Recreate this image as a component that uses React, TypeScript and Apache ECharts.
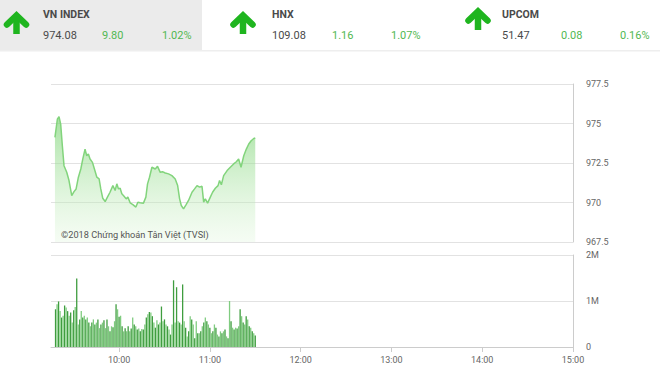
import React, { useEffect, useRef } from "react";
import * as echarts from "echarts";

// Header quotes
const indexNames = ["VN INDEX", "HNX", "UPCOM"];
const indexValues = ["974.08", "109.08", "51.47"];
const indexChanges = ["9.80", "1.16", "0.08"];
const indexPercents = ["1.02%", "1.07%", "0.16%"];

// Axis ticks
const sessionStart = 555; // 9:15 in minutes since midnight
const sessionEnd = 900; // 15:00
const timeTicks = [600, 660, 720, 780, 840, 900];
const priceMin = 967.5;
const priceMax = 977.5;
const priceStep = 2.5;
const volMax = 2;
const volStep = 1;

// Price: minutes after 9:15, index value
const priceTimes = [
  2.6, 4.2, 5.3, 6.4, 7.5, 8.6, 10.4, 11.9, 13.7, 15.2, 16.6, 18.1, 19.7, 21, 22.5, 23.6, 24.7, 25.8,
  27.4, 28.7, 30.3, 31.8, 32.9, 34.2, 35.8, 37.3, 39, 40.9, 42.4, 43.5, 44.6, 45.7, 46.8, 48.3, 49.7,
  50.8, 52.3, 54.1, 56.1, 57.4, 58.9, 61.1, 62.7, 63.8, 65.1, 66.7, 68.9, 70.4, 72.2, 73.7, 75.5, 77.7,
  79.9, 82.1, 83.7, 85, 86.1, 87.6, 89.2, 90.9, 93.2, 94.9, 96.5, 98.2, 99.8, 100.9, 102, 103.5, 105.3,
  106.8, 108.6, 110.4, 111.4, 112.6, 114.1, 116.4, 118.5, 120.7, 122.5, 124, 125.6, 127.4, 129.1, 130.7,
  132.3, 134, 135,
];
const priceValues = [
  974.12, 975.27, 975.44, 974.96, 973.59, 972.33, 971.91, 971.39, 970.44, 970.69, 970.86, 971.6, 972.12,
  972.75, 973.38, 972.96, 973.07, 972.75, 972.54, 972.12, 971.6, 971.49, 970.86, 970.27, 970.06, 970.34,
  970.65, 971.07, 970.76, 971.18, 970.86, 970.9, 970.55, 970.4, 970.23, 970.34, 969.98, 969.87, 969.71,
  970.02, 969.98, 969.96, 970.34, 971.18, 971.6, 972.23, 972.12, 972.29, 971.91, 971.95, 971.87, 971.81,
  971.7, 971.49, 971.07, 970.23, 969.81, 969.6, 969.85, 970.13, 970.65, 970.86, 971.07, 970.97, 971.03,
  970.02, 970.23, 969.96, 970.34, 970.65, 970.9, 971.07, 971.39, 971.12, 971.7, 972.02, 972.23, 972.44,
  972.58, 972.75, 972.23, 972.96, 973.38, 973.7, 973.91, 974.05, 974.08,
];

// Volume per minute (millions of shares), from 9:18 to 11:30
const volFirstMinute = 558;
const volumes = [
  0.82, 0.93, 0.99, 0.78, 0.64, 0.68, 0.9, 0.86, 0.78, 0.68, 0.75, 0.53, 0.8, 0.87, 1.49,
  0.49, 0.6, 0.78, 0.64, 0.68, 0.6, 0.64, 0.53, 0.45, 0.53, 0.6, 0.49, 0.53, 0.6, 0.41, 0.49, 0.53,
  0.58, 0.41, 0.6, 0.45, 0.34, 0.45, 0.43, 0.56, 0.93, 0.82, 0.66, 0.68, 0.45, 0.34, 0.41, 0.34, 0.45,
  0.34, 0.4, 0.64, 0.49, 0.45, 0.38, 0.4, 0.34, 0.39, 0.38, 0.49, 0.64, 0.71, 0.76,
  0.75, 0.67, 0.53, 0.42, 0.58, 0.49, 0.53, 0.88, 0.56, 0.6, 0.49, 0.45, 0.38, 0.27, 0.49,
  1.45, 0.53, 1.3, 0.56, 0.53, 0.49, 1.36,
  0.56, 0.42, 0.23, 0.34, 0.67, 0.6, 0.49, 0.19, 0.56, 0.3, 0.3, 0.34, 0.45, 0.53, 0.64, 0.56, 0.49,
  0.42, 0.3, 0.34, 0.49, 0.42, 0.27, 0.23, 0.34, 0.3, 0.34, 0.38, 0.23, 0.19,
  1.0, 0.56, 0.42, 0.38, 0.42, 0.4, 0.45, 0.82, 0.67, 0.53, 0.49, 0.67, 0.6, 0.45, 0.42, 0.34, 0.3, 0.25,
];

const watermark = "©2018 Chứng khoán Tân Việt (TVSI)";

const FONT = "Roboto, 'Noto Sans', sans-serif";
const GREEN = "#52b852";
const DARK = "#4a4a4a";
const ARROW = "#1fb51f";

function fmtTime(v: number) {
  const h = Math.floor(v / 60);
  const m = Math.round(v % 60);
  return `${h}:${String(m).padStart(2, "0")}`;
}

function arrow(cx: number, top: number) {
  return {
    type: "group",
    children: [
      {
        type: "line",
        shape: { x1: cx, y1: top + 4, x2: cx, y2: top + 21 },
        style: { stroke: ARROW, lineWidth: 6.5 },
      },
      {
        type: "polyline",
        shape: { points: [[cx - 9.5, top + 11.5], [cx, top + 2.5], [cx + 9.5, top + 11.5]] },
        style: { stroke: ARROW, lineWidth: 6.5, fill: null, lineJoin: "miter", lineCap: "round" },
      },
    ],
  };
}

export default function App() {
  const ref = useRef<HTMLDivElement>(null);
  useEffect(() => {
    document.body.style.margin = "0";
    const chart = echarts.init(ref.current!, null, { renderer: "svg" });

    const blocks = [
      { arrowX: 16.5, arrowTop: 13, x: 43, chX: 102, pctX: 162, nameY: 14, valY: 35 },
      { arrowX: 243, arrowTop: 13, x: 272, chX: 332, pctX: 391, nameY: 14, valY: 35 },
      { arrowX: 478, arrowTop: 9, x: 502, chX: 561, pctX: 620, nameY: 14, valY: 35 },
    ];
    const header: any[] = [
      { type: "rect", shape: { x: 0, y: 0, width: 202, height: 50 }, style: { fill: "#ebebeb" }, silent: true },
      { type: "rect", shape: { x: 0, y: 50, width: 660, height: 1.5 }, style: { fill: "#eeeeee" }, silent: true },
    ];
    blocks.forEach((b, i) => {
      header.push(arrow(b.arrowX, b.arrowTop));
      header.push({
        type: "text", x: b.x, y: b.nameY,
        style: { text: indexNames[i], font: `bold 10.5px ${FONT}`, fill: DARK, verticalAlign: "middle" },
      });
      header.push({
        type: "text", x: b.x, y: b.valY,
        style: { text: indexValues[i], font: `11px ${FONT}`, fill: DARK, verticalAlign: "middle" },
      });
      header.push({
        type: "text", x: b.chX, y: b.valY,
        style: { text: indexChanges[i], font: `11px ${FONT}`, fill: GREEN, verticalAlign: "middle" },
      });
      header.push({
        type: "text", x: b.pctX, y: b.valY,
        style: { text: indexPercents[i], font: `11px ${FONT}`, fill: GREEN, verticalAlign: "middle" },
      });
    });
    header.push({
      type: "text", x: 61, y: 234, z: 10,
      style: { text: watermark, font: `9.2px ${FONT}`, fill: "#555555", verticalAlign: "middle" },
    });

    const priceData = priceTimes.map((t, i) => [sessionStart + t, priceValues[i]]);
    const volData = volumes.map((v, i) => [volFirstMinute + i, v]);

    const gridLine = { lineStyle: { color: "#e2e2e2", width: 1 } };
    const axisTxt = { color: "#666666", fontSize: 9, fontFamily: FONT };

    chart.setOption({
      animation: false,
      backgroundColor: "#ffffff",
      grid: [
        { left: 51, right: 87, top: 84, height: 158 },
        { left: 51, right: 87, top: 255, height: 92 },
      ],
      xAxis: [
        {
          type: "value", gridIndex: 0, min: sessionStart, max: sessionEnd,
          axisLine: { show: false }, axisTick: { show: false }, axisLabel: { show: false }, splitLine: { show: false },
        },
        {
          type: "value", gridIndex: 1, min: sessionStart, max: sessionEnd,
          axisLine: { show: true, lineStyle: { color: "#cccccc" } },
          axisTick: { show: true, customValues: timeTicks, length: 5, lineStyle: { color: "#cccccc" } },
          axisLabel: { ...axisTxt, customValues: timeTicks, margin: 8, formatter: (v: number) => fmtTime(v) },
          splitLine: { show: false },
        },
      ],
      yAxis: [
        {
          type: "value", gridIndex: 0, position: "right", min: priceMin, max: priceMax, interval: priceStep,
          axisLine: { show: true, lineStyle: { color: "#cccccc" } }, axisTick: { show: false },
          axisLabel: { ...axisTxt, margin: 13 },
          splitLine: gridLine,
        },
        {
          type: "value", gridIndex: 1, position: "right", min: 0, max: volMax, interval: volStep,
          axisLine: { show: true, lineStyle: { color: "#cccccc" } }, axisTick: { show: false },
          axisLabel: { ...axisTxt, margin: 13, formatter: (v: number) => (v === 0 ? "0" : `${v}M`) },
          splitLine: gridLine,
        },
      ],
      series: [
        {
          type: "line", xAxisIndex: 0, yAxisIndex: 0, data: priceData, showSymbol: false, smooth: false,
          lineStyle: { color: "#82d47c", width: 1.5 },
          areaStyle: {
            origin: "start",
            color: new echarts.graphic.LinearGradient(0, 0, 0, 1, [
              { offset: 0, color: "rgba(120,210,112,0.95)" },
              { offset: 1, color: "rgba(220,245,215,0.4)" },
            ]),
          },
        },
        {
          type: "bar", xAxisIndex: 1, yAxisIndex: 1, data: volData, barWidth: 1.3,
          itemStyle: {
            color: (p: any) => (p.dataIndex % 2 === 0 ? "#3f9d3f" : "#80cc80"),
          },
        },
      ],
      graphic: header,
    });
    return () => chart.dispose();
  }, []);
  return (
    <div
      ref={ref}
      style={{ position: "fixed", left: 0, top: 0, width: 660, height: 377, background: "#fff" }}
    />
  );
}
